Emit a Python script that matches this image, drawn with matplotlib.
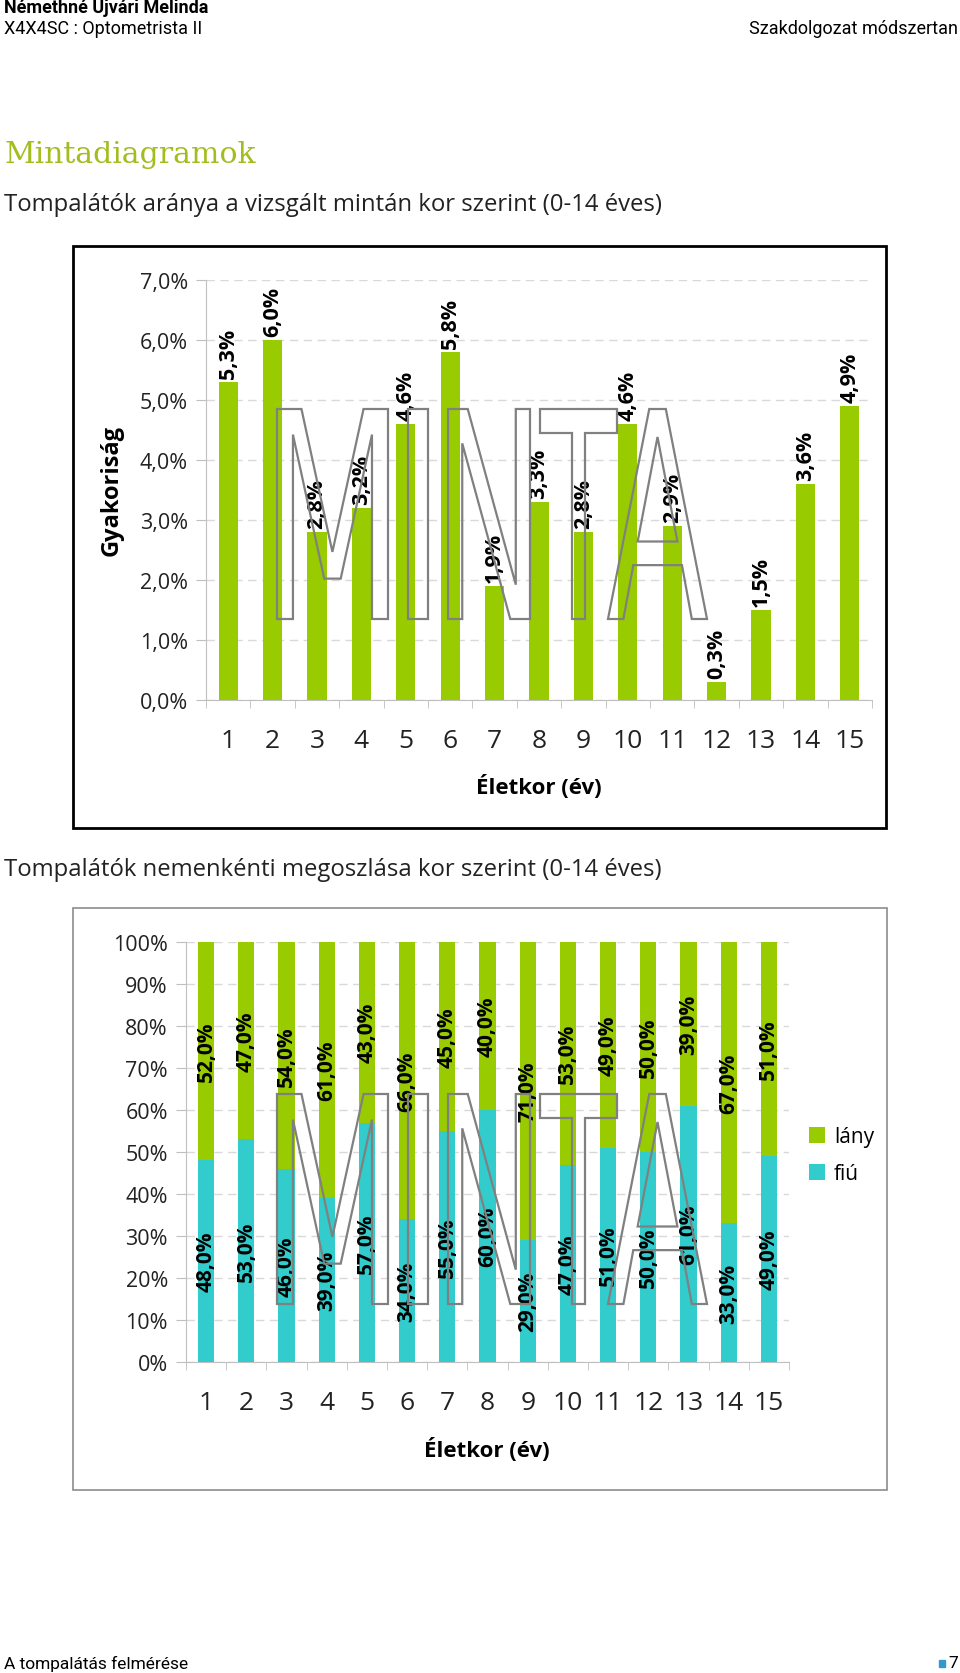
import numpy as np
import matplotlib
matplotlib.use("Agg")
import matplotlib.pyplot as plt
from matplotlib.patches import Rectangle, PathPatch
from matplotlib.textpath import TextPath
from matplotlib.font_manager import FontProperties
from matplotlib.transforms import Affine2D, IdentityTransform
from matplotlib.ticker import FixedLocator

# data
ages = list(range(1, 16))
freq = [5.3, 6.0, 2.8, 3.2, 4.6, 5.8, 1.9, 3.3, 2.8, 4.6, 2.9, 0.3, 1.5, 3.6, 4.9]
fiu = [48, 53, 46, 39, 57, 34, 55, 60, 29, 47, 51, 50, 61, 33, 49]
lany = [52, 47, 54, 61, 43, 66, 45, 40, 71, 53, 49, 50, 39, 67, 51]

GREEN = "#99cc00"
CYAN = "#33cccc"
GRID = "#d9d9d9"
AXC = "#bfbfbf"
FONT = "Open Sans"
NARROW = "Roboto"

W, H = 960, 1674
DPI = 100
fig = plt.figure(figsize=(W / DPI, H / DPI), dpi=DPI)


def box(x0, y0, x1, y1):
    # pixel box (top-left origin) -> figure fraction rect
    return [x0 / W, 1 - y1 / H, (x1 - x0) / W, (y1 - y0) / H]


def ftext(x, y, s, **kw):
    fig.text(x / W, 1 - y / H, s, **kw)


def pct(v):
    return f"{v:.1f}%".replace(".", ",")


def watermark(x0, y0):
    # outlined "MINTA" watermark, each letter stretched into its own box
    letters = [("M", 0, 111), ("I", 131, 151), ("N", 171, 253), ("T", 263, 340), ("A", 331, 430)]
    prop = FontProperties(family="DejaVu Sans")
    for ch, a, b in letters:
        tp = TextPath((0, 0), ch, size=100, prop=prop)
        ext = tp.get_extents()
        sx = (b - a) / ext.width
        sy = 210 / ext.height
        tr = Affine2D().translate(-ext.x0, -ext.y0).scale(sx, sy).translate(x0 + a, H - y0 - 210)
        patch = PathPatch(tr.transform_path(tp), facecolor="none", edgecolor="#808080",
                          lw=1.6, transform=IdentityTransform(), zorder=20)
        fig.add_artist(patch)


def style_axes(ax, ymax):
    ax.set_xlim(0.5, 15.5)
    ax.set_ylim(0, ymax)
    for s in ["top", "right"]:
        ax.spines[s].set_visible(False)
    ax.spines["left"].set_color(AXC)
    ax.spines["bottom"].set_color(AXC)
    ax.yaxis.grid(True, color=GRID, linestyle=(0, (6, 4)), lw=1)
    ax.set_axisbelow(True)
    ax.set_xticks(ages)
    ax.xaxis.set_minor_locator(FixedLocator(np.arange(0.5, 16, 1)))
    ax.tick_params(axis="x", which="major", length=0, pad=20, labelsize=19)
    ax.tick_params(axis="x", which="minor", length=6, color=AXC)
    ax.tick_params(axis="y", length=7, color=AXC, pad=6, labelsize=15.5)
    for lab in ax.get_xticklabels() + ax.get_yticklabels():
        lab.set_fontfamily(FONT)
        lab.set_color("#222222")


# header / footer
ftext(4, 8, "Némethné Ujvári Melinda", fontsize=13, fontweight="bold", family=NARROW, va="center")
ftext(4, 29, "X4X4SC : Optometrista II", fontsize=13, family=NARROW, va="center")
ftext(958, 29, "Szakdolgozat módszertan", fontsize=13, family=NARROW, va="center", ha="right")
ftext(4, 155, "Mintadiagramok", fontsize=21.5, family="DejaVu Serif", color="#a2bd1e", va="center")
ftext(4, 205, "Tompalátók aránya a vizsgált mintán kor szerint (0-14 éves)", fontsize=17.2,
      family=FONT, va="center", color="#222222")
ftext(4, 870, "Tompalátók nemenkénti megoszlása kor szerint (0-14 éves)", fontsize=17.2,
      family=FONT, va="center", color="#222222")
ftext(4, 1664, "A tompalátás felmérése", fontsize=12.5, family=NARROW, va="center")
ftext(958, 1664, "7", fontsize=12.5, family=NARROW, va="center", ha="right")
fig.add_artist(Rectangle((939 / W, 1 - 1668 / H), 6 / W, 7 / H, color="#3399cc",
                         transform=fig.transFigure))

# chart frames
fig.add_artist(Rectangle((73 / W, 1 - 829 / H), 813 / W, 582 / H, fill=False, ec="black",
                         lw=2, transform=fig.transFigure))
fig.add_artist(Rectangle((73 / W, 1 - 1491 / H), 814 / W, 582 / H, fill=False, ec="#8c8c8c",
                         lw=1.2, transform=fig.transFigure))

# chart 1
ax1 = fig.add_axes(box(206, 281, 872, 701))
ax1.bar(ages, freq, width=0.43, color=GREEN, zorder=3)
ax1.set_yticks(np.arange(0, 7.01, 1))
ax1.set_yticklabels([pct(v) for v in range(8)])
style_axes(ax1, 7)
for x, v in zip(ages, freq):
    ax1.annotate(pct(v), (x, v), xytext=(0, 3), textcoords="offset points", rotation=90,
                 ha="center", va="bottom", fontsize=15.5, fontweight="bold", family=FONT, zorder=4)
ftext(112, 491, "Gyakoriság", fontsize=17, fontweight="bold", family=FONT, rotation=90,
      va="center", ha="center")
ftext(539, 787, "Életkor (év)", fontsize=16, fontweight="bold", family=FONT, va="center", ha="center")
watermark(277, 410)

# chart 2
ax2 = fig.add_axes(box(186, 943, 789, 1363))
b_fiu = ax2.bar(ages, fiu, width=0.4, color=CYAN, zorder=3, label="fiú")
b_lany = ax2.bar(ages, lany, width=0.4, bottom=fiu, color=GREEN, zorder=3, label="lány")
ax2.set_yticks(np.arange(0, 101, 10))
ax2.set_yticklabels([f"{v}%" for v in range(0, 101, 10)])
style_axes(ax2, 100)
for x, f, l in zip(ages, fiu, lany):
    ax2.text(x, f / 2, pct(f), rotation=90, ha="center", va="center", fontsize=15,
             fontweight="bold", family=FONT, zorder=4)
    ax2.text(x, f + l / 2, pct(l), rotation=90, ha="center", va="center", fontsize=15,
             fontweight="bold", family=FONT, zorder=4)
ax2.legend([b_lany, b_fiu], ["lány", "fiú"], loc="center left", frameon=False,
           bbox_to_anchor=(790 / W, 1 - 1156 / H), bbox_transform=fig.transFigure,
           handlelength=0.8, handleheight=0.8, handletextpad=0.4, labelspacing=0.75,
           prop={"family": FONT, "size": 15})
ftext(487, 1450, "Életkor (év)", fontsize=16, fontweight="bold", family=FONT, va="center", ha="center")
watermark(277, 1095)

fig.savefig("out.png", dpi=DPI)
